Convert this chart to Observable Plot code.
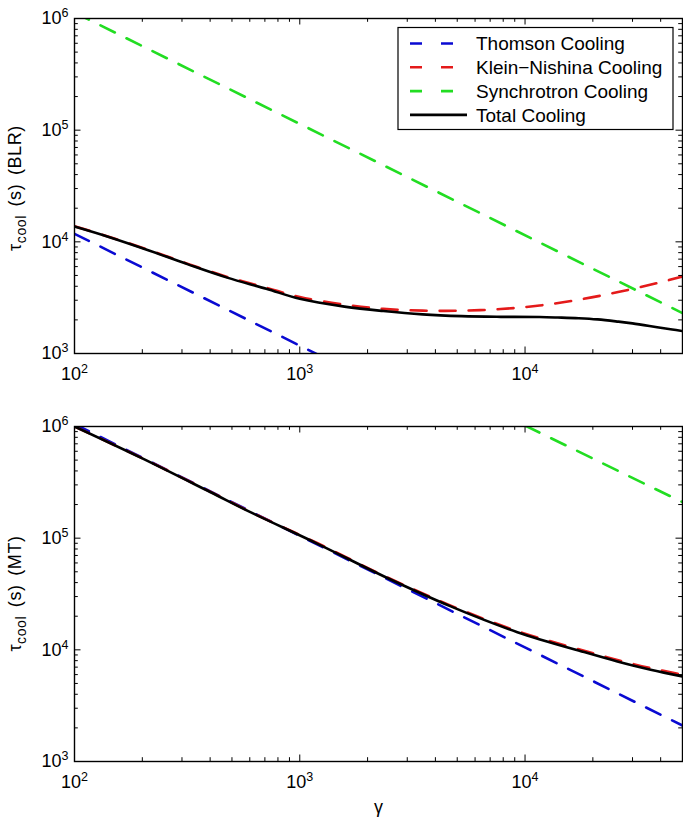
<!DOCTYPE html>
<html>
<head>
<meta charset="utf-8">
<script src="https://cdn.jsdelivr.net/npm/d3@7"></script>
<script src="https://cdn.jsdelivr.net/npm/@observablehq/plot@0.6"></script>
<style>
  body { margin: 0; background: #fff; }
  #chart { width: 683px; height: 819px; background: #fff; }
  #chart svg { display: block; }
</style>
</head>
<body>
<div id="chart"></div>
<script>
// ---------- data ----------
// Top panel (BLR)
const gammaThomsonBLR = [100, 1200];
const thomsonBLR      = [11800, 980];
const gammaKnBLR      = [100, 143, 214, 319, 476, 710, 1000, 1580, 2350, 3510, 5230, 7800, 11600, 17300, 25900, 38600, 50000];
const knBLR           = [13800, 11050, 8450, 6350, 4850, 3880, 3200, 2740, 2510, 2420, 2420, 2500, 2690, 3030, 3550, 4270, 4900];
const gammaSyncBLR    = [100, 50000];
const syncBLR         = [1130000, 2300];
const gammaTotalBLR   = [100, 143, 214, 319, 476, 710, 1000, 1580, 2350, 3510, 5230, 7800, 11600, 14000, 17300, 21000, 25900, 30000, 38600, 45000, 50000];
const totalBLR        = [13700, 11000, 8370, 6280, 4780, 3800, 3090, 2630, 2400, 2240, 2160, 2130, 2120, 2100, 2070, 2020, 1930, 1860, 1720, 1640, 1590];

// Bottom panel (MT)
const gammaThomsonMT = [100, 50000];
const thomsonMT      = [1050000, 2100];
const gammaKnMT      = [100, 200, 400, 607, 1200, 2370, 4680, 9250, 18300, 25700, 36100, 50000];
const knMT           = [1000000, 520000, 261000, 171000, 90000, 46000, 24900, 14700, 9800, 8100, 6850, 6000];
const gammaSyncMT    = [10000, 50000];
const syncMT         = [1020000, 210000];
const gammaTotalMT   = [100, 200, 400, 607, 1200, 2370, 4680, 9250, 18300, 25700, 36100, 50000];
const totalMT        = [1000000, 518000, 259000, 170000, 89000, 45400, 24500, 14400, 9540, 7870, 6630, 5780];

// axes / ticks / labels
const xDomain = [100, 50000];
const yDomain = [1000, 1000000];
const xMajor = [100, 1000, 10000];
const xTickLabels = ["10^2", "10^3", "10^4"];
const xMinor = [200, 300, 400, 500, 600, 700, 800, 900, 2000, 3000, 4000, 5000, 6000, 7000, 8000, 9000, 20000, 30000, 40000];
const yMajor = [1000, 10000, 100000, 1000000];
const yTickLabels = ["10^3", "10^4", "10^5", "10^6"];
const yMinor = [2e3, 3e3, 4e3, 5e3, 6e3, 7e3, 8e3, 9e3, 2e4, 3e4, 4e4, 5e4, 6e4, 7e4, 8e4, 9e4, 2e5, 3e5, 4e5, 5e5, 6e5, 7e5, 8e5, 9e5];
const yLabelTop = ["τ", "cool", " (s) (BLR)"];
const yLabelBottom = ["τ", "cool", " (s) (MT)"];
const xLabel = ["γ"];
const legendLabels = ["Thomson Cooling", "Klein\u2212Nishina Cooling", "Synchrotron Cooling", "Total Cooling"];
const seriesColors = ["#0a0ad2", "#e41a1a", "#22dd22", "#000000"];
const seriesDashed = [true, true, true, false];

// ---------- drawing ----------
const FONT = "'Liberation Sans', Arial, Helvetica, sans-serif";
const W = 683, ML = 74, MR = 1;
const rows = (g, v) => g.map((x, i) => ({g: x, v: v[i]}));

function lineMark(data, i) {
  return Plot.line(data, {
    x: "g", y: "v", stroke: seriesColors[i], strokeWidth: 2.6,
    strokeDasharray: seriesDashed[i] ? "16,13" : null,
    curve: "catmull-rom", clip: true
  });
}

function tickSet(ph, pw) {
  const s = {stroke: "black", strokeWidth: 1};
  const majorLen = 6.5, minorLen = 3.8;
  return [
    Plot.ruleX(xMajor, {x: d => d, insetTop: ph - majorLen, ...s}),
    Plot.ruleX(xMajor, {x: d => d, insetBottom: ph - majorLen, ...s}),
    Plot.ruleX(xMinor, {x: d => d, insetTop: ph - minorLen, ...s}),
    Plot.ruleX(xMinor, {x: d => d, insetBottom: ph - minorLen, ...s}),
    Plot.ruleY(yMajor, {y: d => d, insetRight: pw - majorLen, ...s}),
    Plot.ruleY(yMajor, {y: d => d, insetLeft: pw - majorLen, ...s}),
    Plot.ruleY(yMinor, {y: d => d, insetRight: pw - minorLen, ...s}),
    Plot.ruleY(yMinor, {y: d => d, insetLeft: pw - minorLen, ...s})
  ];
}

function panel({height, mt, mb, series, withXLabel}) {
  const ph = height - mt - mb, pw = W - ML - MR;
  return Plot.plot({
    width: W, height, marginTop: mt, marginBottom: mb, marginLeft: ML, marginRight: MR,
    style: {fontFamily: FONT, fontSize: "18px", background: "white", color: "black", overflow: "visible"},
    x: {type: "log", domain: xDomain},
    y: {type: "log", domain: yDomain},
    marks: [
      Plot.axisX({ticks: xMajor, tickSize: 0, tickPadding: 14, label: null,
        tickFormat: d => xTickLabels[xMajor.indexOf(d)], fontSize: 18}),
      Plot.axisY({ticks: yMajor, tickSize: 0, tickPadding: 6, label: null,
        tickFormat: d => yTickLabels[yMajor.indexOf(d)], fontSize: 18}),
      ...series.map((d, i) => lineMark(d, i)),
      ...tickSet(ph, pw),
      Plot.frame({stroke: "black", strokeWidth: 1.4}),
      withXLabel ? Plot.text(xLabel, {text: d => d, frameAnchor: "bottom", dy: 51, fontSize: 18}) : null
    ]
  });
}

function superscripts(svg) {
  d3.select(svg).selectAll("text").each(function () {
    const m = /^10\^(-?\d+)$/.exec(this.textContent);
    if (!m) return;
    const t = d3.select(this);
    t.text(null);
    t.append("tspan").text("10");
    t.append("tspan").attr("font-size", 12.5).attr("dy", "-0.55em").text(m[1]);
  });
}

function addYLabel(svg, cy, parts) {
  const t = d3.select(svg).append("text")
    .attr("transform", `translate(21,${cy}) rotate(-90)`)
    .attr("text-anchor", "middle")
    .attr("font-family", FONT).attr("font-size", 18).attr("fill", "black")
    .attr("letter-spacing", 0.6).attr("word-spacing", 3)
    .style("white-space", "pre");
  t.append("tspan").text(parts[0]);
  t.append("tspan").attr("font-size", 14).attr("dy", 5).text(parts[1]);
  t.append("tspan").attr("dy", -5).text(parts[2]);
}

function addLegend(svg) {
  const g = d3.select(svg).append("g");
  g.append("rect").attr("x", 398).attr("y", 27.5).attr("width", 275).attr("height", 102)
    .attr("fill", "white").attr("stroke", "black").attr("stroke-width", 1.2);
  const y0 = 43.5, dyRow = 23.8;
  legendLabels.forEach((lab, i) => {
    const y = y0 + i * dyRow;
    g.append("line").attr("x1", 410).attr("x2", seriesDashed[i] ? 456 : 467)
      .attr("y1", y).attr("y2", y)
      .attr("stroke", seriesColors[i]).attr("stroke-width", 2.6)
      .attr("stroke-dasharray", seriesDashed[i] ? "12,19" : null);
    g.append("text").attr("x", 476).attr("y", y).attr("dy", "0.36em")
      .attr("text-anchor", "start")
      .attr("font-family", FONT).attr("font-size", 19).attr("fill", "black").text(lab);
  });
}

const topPanel = panel({
  height: 410, mt: 18, mb: 57,
  series: [rows(gammaThomsonBLR, thomsonBLR), rows(gammaKnBLR, knBLR), rows(gammaSyncBLR, syncBLR), rows(gammaTotalBLR, totalBLR)],
  withXLabel: false
});
const bottomPanel = panel({
  height: 409, mt: 16, mb: 58,
  series: [rows(gammaThomsonMT, thomsonMT), rows(gammaKnMT, knMT), rows(gammaSyncMT, syncMT), rows(gammaTotalMT, totalMT)],
  withXLabel: true
});
superscripts(topPanel); superscripts(bottomPanel);
addYLabel(topPanel, 188, yLabelTop);
addYLabel(bottomPanel, 183.5, yLabelBottom);
addLegend(topPanel);
document.getElementById("chart").append(topPanel, bottomPanel);
</script>
</body>
</html>
